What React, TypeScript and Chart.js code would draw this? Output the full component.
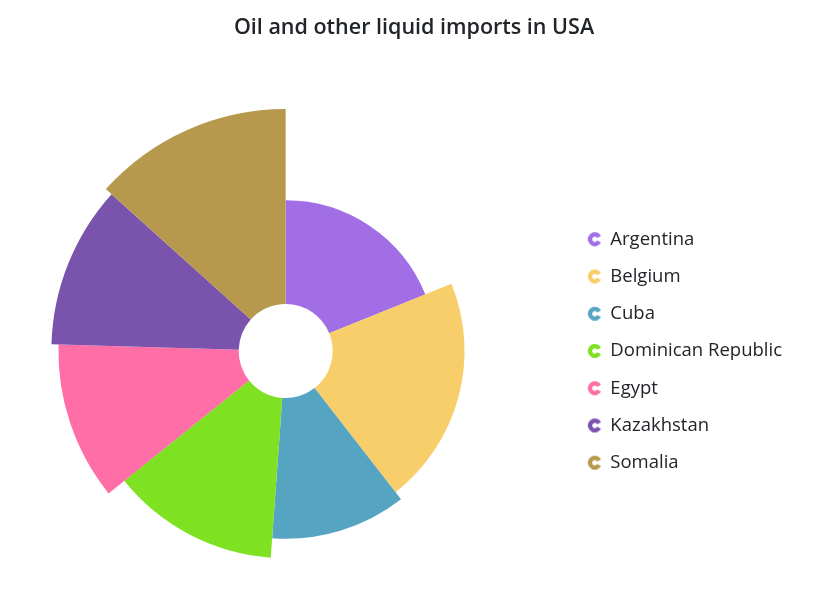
import React, { useEffect, useRef } from "react";
import { Chart, registerables } from "chart.js";

Chart.register(...registerables);

const countries = ["Argentina", "Belgium", "Cuba", "Dominican Republic", "Egypt", "Kazakhstan", "Somalia"];
const imports = [505370, 551500, 312685, 350000, 301000, 300000, 357022];
const radiusValues = [100, 118.7, 124.6, 137.5, 150.8, 155.5, 160.6];
const colors = ["#a16ee5", "#f7ce69", "#55a5c2", "#7ee121", "#ff6ea6", "#7953ac", "#b6994c"];

const LEGEND_FONT = 18.5;
const ICON_BOX = 47;

function makeIcon(color: string): HTMLCanvasElement {
  const c = document.createElement("canvas");
  c.width = ICON_BOX;
  c.height = 16;
  const ctx = c.getContext("2d")!;
  const cx = ICON_BOX + LEGEND_FONT / 2 - 15.5;
  const cy = 8;
  ctx.fillStyle = color;
  ctx.beginPath();
  const a0 = (28 * Math.PI) / 180;
  const a1 = (332 * Math.PI) / 180;
  ctx.arc(cx, cy, 7, a0, a1, false);
  ctx.arc(cx, cy, 2.6, a1, a0, true);
  ctx.closePath();
  ctx.fill();
  return c;
}

const variableRadius = {
  id: "variableRadius",
  afterDatasetsUpdate(chart: any) {
    const meta = chart.getDatasetMeta(0);
    const maxR = Math.max(...radiusValues);
    const full = meta.controller.outerRadius;
    meta.data.forEach((arc: any, i: number) => {
      arc.outerRadius = (full * radiusValues[i]) / maxR;
    });
  },
};

export default function App() {
  const ref = useRef<HTMLCanvasElement>(null);
  useEffect(() => {
    const icons = colors.map(makeIcon);
    const chart = new Chart(ref.current!, {
      type: "doughnut",
      data: {
        labels: countries,
        datasets: [
          {
            data: imports,
            backgroundColor: colors,
            borderWidth: 0,
            hoverOffset: 0,
          },
        ],
      },
      plugins: [variableRadius],
      options: {
        animation: false,
        responsive: true,
        maintainAspectRatio: false,
        cutout: 47,
        layout: { padding: { left: 36, right: 43, top: 0, bottom: 18 } },
        plugins: {
          title: {
            display: true,
            text: "Oil and other liquid imports in USA",
            color: "#212529",
            font: { family: "'Open Sans', sans-serif", size: 21.5, weight: 600 },
            padding: { top: 15, bottom: 68.2 },
          },
          legend: {
            position: "right",
            align: "center",
            fullSize: false,
            labels: {
              usePointStyle: true,
              pointStyleWidth: ICON_BOX,
              boxWidth: ICON_BOX,
              boxHeight: 16,
              padding: 18.75,
              color: "#212529",
              font: { family: "'Open Sans', sans-serif", size: LEGEND_FONT },
              generateLabels: (ch: any) =>
                countries.map((name, i) => ({
                  text: name,
                  fillStyle: colors[i],
                  strokeStyle: colors[i],
                  lineWidth: 0,
                  pointStyle: icons[i],
                  hidden: !ch.getDataVisibility(i),
                  index: i,
                  fontColor: "#212529",
                })),
            },
          },
          tooltip: { enabled: true },
        },
      },
    });
    return () => chart.destroy();
  }, []);
  return (
    <div style={{ position: "fixed", left: 0, top: 0, width: 835, height: 611, background: "#fff" }}>
      <canvas ref={ref} />
    </div>
  );
}
